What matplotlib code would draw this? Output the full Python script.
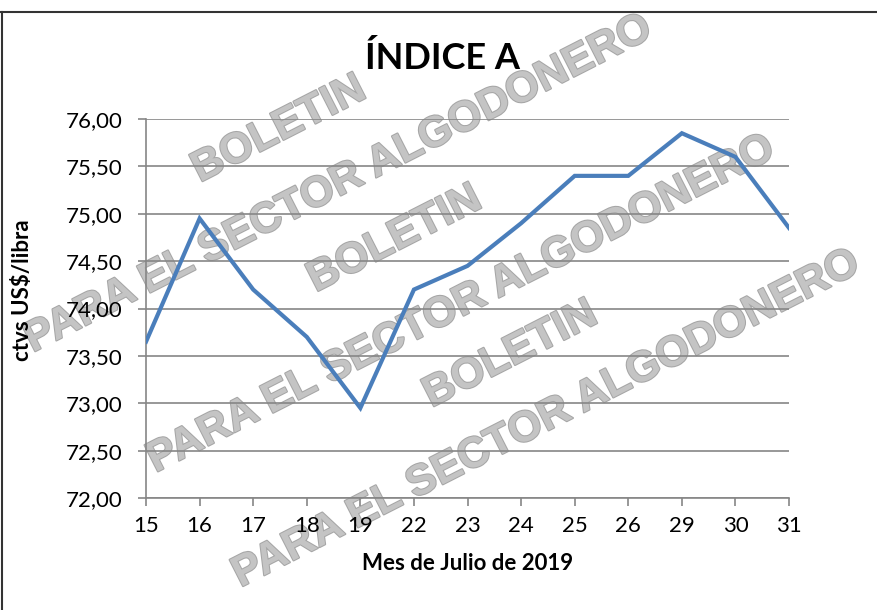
import matplotlib
matplotlib.use("Agg")
import matplotlib.pyplot as plt
import matplotlib.patheffects as pe
from matplotlib.lines import Line2D
from matplotlib.ticker import FuncFormatter

# Datos del grafico
dias = ["15", "16", "17", "18", "19", "22", "23", "24", "25", "26", "29", "30", "31"]
indice_a = [73.65, 74.95, 74.20, 73.70, 72.95, 74.20, 74.45, 74.90, 75.40, 75.40, 75.85, 75.60, 74.85]
y_ticks = [72.0, 72.5, 73.0, 73.5, 74.0, 74.5, 75.0, 75.5, 76.0]

# Marca de agua (texto, centro en fraccion de figura)
marcas = [
    ("BOLETIN", 0.318, 0.787),
    ("PARA EL SECTOR ALGODONERO", 0.385, 0.697),
    ("BOLETIN", 0.450, 0.607),
    ("PARA EL SECTOR ALGODONERO", 0.525, 0.500),
    ("BOLETIN", 0.582, 0.418),
    ("PARA EL SECTOR ALGODONERO", 0.622, 0.312),
]

plt.rcParams['font.family'] = ['Lato', 'DejaVu Sans']

fig = plt.figure(figsize=(8.77, 6.10), dpi=100)

# Marca de agua detras de todo
for texto, mx, my in marcas:
    fig.text(mx, my, texto, ha="center", va="center", rotation=27,
             fontsize=31, fontweight="heavy", family="Liberation Sans",
             color="#c4c4c4", zorder=-1,
             path_effects=[pe.withStroke(linewidth=1.5, foreground="#a6a6a6")])

ax = fig.add_axes([0.1665, 0.1836, 0.7332, 0.6213])
ax.patch.set_alpha(0)

x = list(range(len(dias)))
ax.plot(x, indice_a, color="#4a7ebb", linewidth=3.0, solid_joinstyle="miter", zorder=3)

ax.set_xlim(0, len(dias) - 1)
ax.set_ylim(72, 76)
ax.set_xticks(x)
ax.set_xticklabels(dias)
ax.set_yticks(y_ticks)
ax.yaxis.set_major_formatter(FuncFormatter(lambda v, p: f"{v:.2f}".replace(".", ",")))
ax.tick_params(axis="both", labelsize=16, colors="#868686", labelcolor="black",
               length=6, width=1.2, direction="out")
ax.tick_params(axis="x", pad=7)
ax.tick_params(axis="y", pad=11)

ax.grid(axis="y", color="#868686", linewidth=1.2)
ax.set_axisbelow(True)
for lado in ["top", "right"]:
    ax.spines[lado].set_visible(False)
for lado in ["left", "bottom"]:
    ax.spines[lado].set_color("#868686")
    ax.spines[lado].set_linewidth(1.2)

ax.set_xlabel("Mes de Julio de 2019", fontsize=16, fontweight="bold", labelpad=12)
ax.set_ylabel("ctvs US$/libra", fontsize=16, fontweight="bold")
ax.yaxis.set_label_coords(-0.176, 0.549)
fig.text(0.505, 0.905, "ÍNDICE A", ha="center", va="center", fontsize=26, fontweight="bold")

# Marco de la figura
fig.add_artist(Line2D([0, 1], [0.981, 0.981], color="#333333", linewidth=1.5))
fig.add_artist(Line2D([0.002, 0.002], [0, 0.981], color="#333333", linewidth=1.5))

fig.savefig("out.png", dpi=100)
